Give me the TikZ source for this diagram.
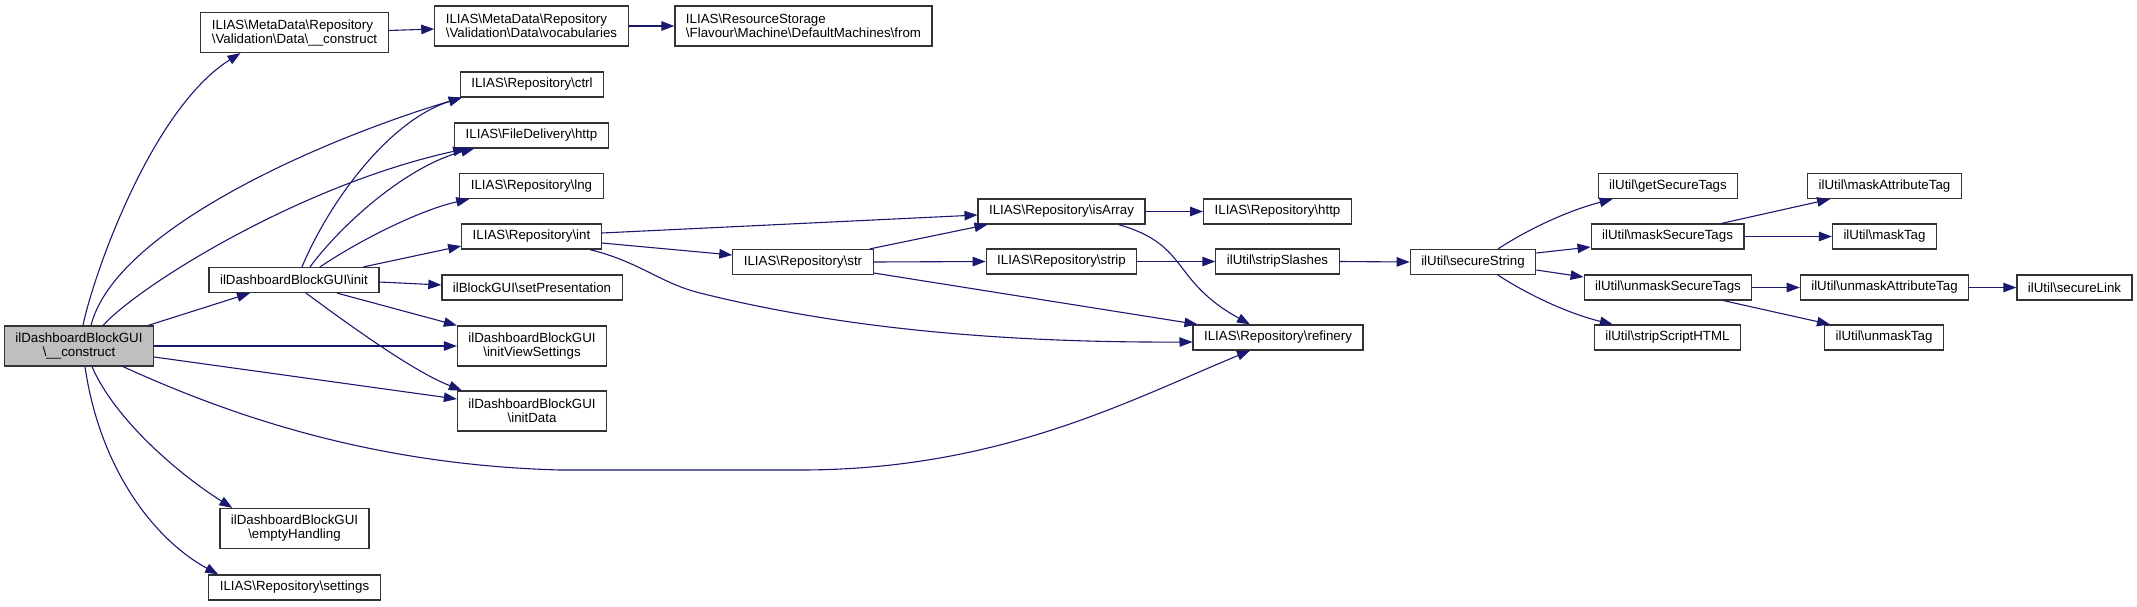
\documentclass[tikz,border=0pt]{standalone}
\usepackage{fontspec}
\setmainfont{Liberation Sans}
\usepackage{tikz}
\usetikzlibrary{shapes,arrows.meta}
\definecolor{mdblue}{HTML}{191970}
\newcommand{\bsl}{\textbackslash}

\begin{document}
\begin{tikzpicture}[x=1pt,y=-1pt,
		fn/.style={draw=black!80, line width=1.2pt, rectangle, inner xsep=11pt, inner ysep=2pt, minimum height=25pt, font=\fontsize{13.3}{14}\selectfont},
		fn2/.style={fn, minimum height=40pt},
		call/.style={draw=mdblue, line width=1.1pt, -{Triangle[length=13pt,width=9.5pt]}}]
			\useasboundingbox (0,0) rectangle (2137,606);
			\node[fn2, fill=black!25, align=center] (construct) at (79,346) {ilDashboardBlockGUI\\\bsl\_\_construct};
			\node[fn2, align=left] (mdconstruct) at (294.5,32.5) {ILIAS\bsl MetaData\bsl Repository\\\bsl Validation\bsl Data\bsl\_\_construct};
			\node[fn] (init) at (294,280) {ilDashboardBlockGUI\bsl init};
			\node[fn2, align=center] (emptyhandling) at (294.5,528.5) {ilDashboardBlockGUI\\\bsl emptyHandling};
			\node[fn] (settings) at (294.5,587.5) {ILIAS\bsl Repository\bsl settings};
			\node[fn2, align=left] (vocabularies) at (531.5,26) {ILIAS\bsl MetaData\bsl Repository\\\bsl Validation\bsl Data\bsl vocabularies};
			\node[fn2, align=left] (from) at (803.5,26) {ILIAS\bsl ResourceStorage\\\bsl Flavour\bsl Machine\bsl DefaultMachines\bsl from};
			\node[fn] (ctrl) at (532,84.5) {ILIAS\bsl Repository\bsl ctrl};
			\node[fn] (fdhttp) at (531.5,135.5) {ILIAS\bsl FileDelivery\bsl http};
			\node[fn] (lng) at (531.5,186) {ILIAS\bsl Repository\bsl lng};
			\node[fn] (int) at (531.5,236.5) {ILIAS\bsl Repository\bsl int};
			\node[fn] (setpresentation) at (532,287.5) {ilBlockGUI\bsl setPresentation};
			\node[fn2, align=center] (initviewsettings) at (532,346) {ilDashboardBlockGUI\\\bsl initViewSettings};
			\node[fn2, align=center] (initdata) at (532,411) {ilDashboardBlockGUI\\\bsl initData};
			\node[fn] (str) at (803,262) {ILIAS\bsl Repository\bsl str};
			\node[fn] (isarray) at (1061.5,211.5) {ILIAS\bsl Repository\bsl isArray};
			\node[fn] (strip) at (1061.5,261.5) {ILIAS\bsl Repository\bsl strip};
			\node[fn] (refinery) at (1278,337.5) {ILIAS\bsl Repository\bsl refinery};
			\node[fn] (rhttp) at (1277.5,211.5) {ILIAS\bsl Repository\bsl http};
			\node[fn] (stripslashes) at (1277.5,261.5) {ilUtil\bsl stripSlashes};
			\node[fn] (securestring) at (1473,262) {ilUtil\bsl secureString};
			\node[fn] (getsecuretags) at (1668,186) {ilUtil\bsl getSecureTags};
			\node[fn] (masksecuretags) at (1667.5,236.5) {ilUtil\bsl maskSecureTags};
			\node[fn] (unmasksecuretags) at (1668,287.5) {ilUtil\bsl unmaskSecureTags};
			\node[fn] (stripscripthtml) at (1667.5,337.5) {ilUtil\bsl stripScriptHTML};
			\node[fn] (maskattributetag) at (1884.5,186) {ilUtil\bsl maskAttributeTag};
			\node[fn] (masktag) at (1884.5,236.5) {ilUtil\bsl maskTag};
			\node[fn] (unmaskattributetag) at (1884.5,287.5) {ilUtil\bsl unmaskAttributeTag};
			\node[fn] (securelink) at (2074.5,287.5) {ilUtil\bsl secureLink};
			\node[fn] (unmasktag) at (1884,337.5) {ilUtil\bsl unmaskTag};

			\draw[call] ([xshift=4pt]construct.north) .. controls (92,280) and (150,110) .. ([xshift=-54pt]mdconstruct.south);
			\draw[call] ([xshift=12pt]construct.north) .. controls (115,230) and (320,140) .. ([xshift=2pt]ctrl.south west);
			\draw[call] ([xshift=24pt]construct.north) .. controls (140,285) and (300,185) .. ([xshift=12pt]fdhttp.south west);
			\draw[call] ([xshift=-6pt]construct.north east) -- ([xshift=-44pt]init.south);
			\draw[call] (construct.east) -- (initviewsettings.west);
			\draw[call] ([yshift=-11pt]construct.east) -- ([yshift=12pt]initdata.west);
			\draw[call] ([xshift=44pt]construct.south) .. controls (240,420) and (380,465) .. (560,470) -- (800,470) .. controls (1000,470) and (1130,400) .. ([xshift=-28pt]refinery.south);
			\draw[call] ([xshift=13pt]construct.south) .. controls (115,420) and (180,475) .. ([xshift=13pt]emptyhandling.north west);
			\draw[call] ([xshift=6pt]construct.south) .. controls (100,470) and (155,540) .. ([xshift=10pt]settings.north west);
			\draw[call] ([yshift=2pt]mdconstruct.east) -- ([yshift=-3pt]vocabularies.west);
			\draw[call] (vocabularies.east) -- (from.west);

			\draw[call] ([xshift=8pt]init.north) .. controls (330,200) and (390,120) .. ([xshift=2pt]ctrl.south west);
			\draw[call] ([xshift=16pt]init.north) .. controls (345,220) and (410,165) .. ([xshift=20pt]fdhttp.south west);
			\draw[call] ([xshift=26pt]init.north) .. controls (360,240) and (420,210) .. ([xshift=10pt]lng.south west);
			\draw[call] ([xshift=-16pt]init.north east) -- ([yshift=-9.5pt]int.west);
			\draw[call] ([yshift=-2pt]init.east) -- ([yshift=2.5pt]setpresentation.west);
			\draw[call] ([xshift=43pt]init.south) -- (initviewsettings.north west);
			\draw[call] ([xshift=12pt]init.south) .. controls (340,318) and (410,370) .. ([xshift=5pt]initdata.north west);

			\draw[call] ([yshift=3.5pt]int.east) -- ([yshift=-3.5pt]isarray.west);
			\draw[call] ([yshift=-6.5pt]int.east) -- ([yshift=7pt]str.west);
			\draw[call] ([xshift=-12pt]int.south east) .. controls (640,262) and (660,283) .. (700,293) .. controls (800,318) and (950,343) .. ([yshift=-4.5pt]refinery.west);
			\draw[call] ([xshift=-4pt]str.north east) -- ([xshift=10pt]isarray.south west);
			\draw[call] (str.east) -- (strip.west);
			\draw[call] ([yshift=-11pt]str.east) -- ([xshift=5pt]refinery.north west);
			\draw[call] (isarray.east) -- (rhttp.west);
			\draw[call] ([xshift=-27pt]isarray.south east) .. controls (1190,245) and (1170,280) .. ([xshift=-28pt]refinery.north);
			\draw[call] (strip.east) -- (stripslashes.west);
			\draw[call] (stripslashes.east) -- (securestring.west);

			\draw[call] ([xshift=25pt]securestring.north) .. controls (1530,228) and (1570,210) .. ([xshift=15pt]getsecuretags.south west);
			\draw[call] ([yshift=9pt]securestring.east) -- ([yshift=-10.5pt]masksecuretags.west);
			\draw[call] ([yshift=-8pt]securestring.east) -- ([yshift=10.5pt]unmasksecuretags.west);
			\draw[call] ([xshift=25pt]securestring.south) .. controls (1530,296) and (1570,314) .. ([xshift=19pt]stripscripthtml.north west);
			\draw[call] ([xshift=-23pt]masksecuretags.north east) -- ([xshift=23pt]maskattributetag.south west);
			\draw[call] (masksecuretags.east) -- (masktag.west);
			\draw[call] (unmasksecuretags.east) -- (unmaskattributetag.west);
			\draw[call] ([xshift=-29pt]unmasksecuretags.south east) -- ([xshift=6pt]unmasktag.north west);
			\draw[call] (unmaskattributetag.east) -- (securelink.west);
		\end{tikzpicture}
\end{document}
